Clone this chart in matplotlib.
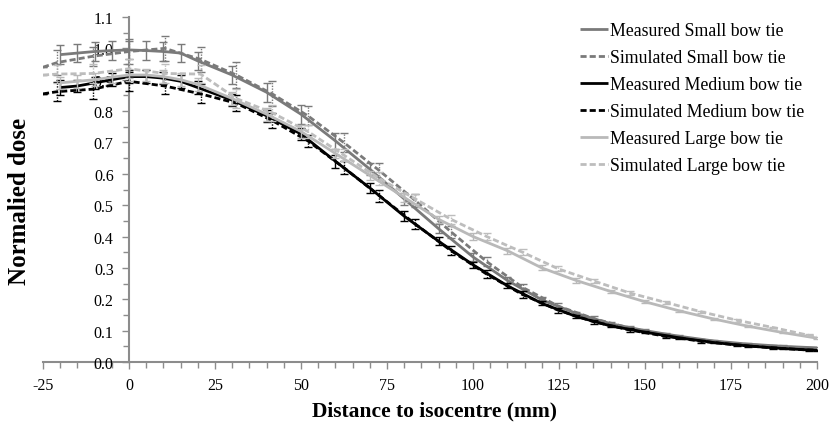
import numpy as np
import matplotlib
matplotlib.use("Agg")
import matplotlib.pyplot as plt
from matplotlib.ticker import MultipleLocator, FixedLocator

# ---------------- data ----------------
x_meas = [-20, -15, -10, -5, 0, 5, 10, 15, 20, 30, 40, 50, 60, 70, 80, 90,
          100, 110, 120, 130, 140, 150, 160, 170, 180, 190, 200]
x_sim = [-25.0, -20.8, -10.4, 0.0, 10.4, 20.8, 31.2, 41.6, 52.0, 62.4, 72.8,
         83.2, 93.6, 104.0, 114.4, 124.8, 135.2, 145.6, 156.0, 166.4, 176.8,
         187.2, 197.6, 208.0]

meas_small = [0.980, 0.985, 0.990, 0.993, 0.995, 0.993, 0.990, 0.985, 0.960,
              0.915, 0.860, 0.790, 0.705, 0.615, 0.520, 0.425, 0.335, 0.260,
              0.198, 0.155, 0.122, 0.100, 0.082, 0.067, 0.057, 0.050, 0.045]
meas_small_err = [0.03, 0.03, 0.03, 0.03, 0.03, 0.03, 0.03, 0.03, 0.03,
                  0.03, 0.03, 0.03, 0.025, 0.02, 0.02, 0.015, 0.012, 0.01,
                  0.008, 0.006, 0.005, 0.004, 0.004, 0.003, 0.003, 0.003, 0.003]

sim_small = [0.940, 0.955, 0.975, 0.990, 1.000, 0.965, 0.915, 0.855, 0.785,
             0.700, 0.610, 0.515, 0.415, 0.320, 0.238, 0.178, 0.138, 0.108,
             0.086, 0.070, 0.058, 0.050, 0.044, 0.040]
sim_small_err = [0.0, 0.04, 0.03, 0.04, 0.04, 0.04, 0.04, 0.04, 0.03, 0.03,
                 0.025, 0.02, 0.02, 0.015, 0.012, 0.01, 0.008, 0.006, 0.005,
                 0.004, 0.004, 0.003, 0.003, 0.003]

meas_medium = [0.875, 0.880, 0.890, 0.900, 0.910, 0.910, 0.905, 0.895, 0.875,
               0.835, 0.785, 0.727, 0.640, 0.555, 0.465, 0.385, 0.310, 0.243,
               0.187, 0.145, 0.115, 0.095, 0.077, 0.062, 0.051, 0.043, 0.037]
meas_medium_err = [0.025, 0.02, 0.02, 0.02, 0.02, 0.02, 0.02, 0.02, 0.02,
                   0.02, 0.02, 0.02, 0.02, 0.015, 0.015, 0.012, 0.01, 0.008,
                   0.006, 0.005, 0.004, 0.004, 0.003, 0.003, 0.003, 0.002, 0.002]

sim_medium = [0.855, 0.862, 0.870, 0.895, 0.880, 0.855, 0.825, 0.770, 0.705,
              0.620, 0.530, 0.440, 0.355, 0.280, 0.215, 0.165, 0.128, 0.102,
              0.082, 0.066, 0.054, 0.045, 0.038, 0.034]
sim_medium_err = [0.0, 0.03, 0.03, 0.03, 0.025, 0.03, 0.025, 0.025, 0.02, 0.02,
                  0.02, 0.015, 0.015, 0.012, 0.01, 0.008, 0.006, 0.005, 0.004,
                  0.004, 0.003, 0.003, 0.003, 0.002]

meas_large = [0.890, 0.895, 0.900, 0.908, 0.915, 0.915, 0.910, 0.900, 0.885,
              0.840, 0.790, 0.735, 0.665, 0.595, 0.525, 0.455, 0.400, 0.355,
              0.300, 0.260, 0.225, 0.192, 0.163, 0.137, 0.114, 0.094, 0.076]
meas_large_err = [0.02, 0.02, 0.02, 0.02, 0.02, 0.02, 0.02, 0.02, 0.02,
                  0.02, 0.02, 0.02, 0.015, 0.015, 0.015, 0.012, 0.012, 0.01,
                  0.008, 0.007, 0.006, 0.005, 0.004, 0.004, 0.003, 0.003, 0.003]

sim_large = [0.915, 0.918, 0.920, 0.935, 0.920, 0.918, 0.840, 0.795, 0.735,
             0.660, 0.585, 0.520, 0.455, 0.400, 0.350, 0.297, 0.258, 0.220,
             0.190, 0.160, 0.133, 0.110, 0.085, 0.072]
sim_large_err = [0.0, 0.03, 0.03, 0.03, 0.03, 0.03, 0.03, 0.025, 0.02, 0.02,
                 0.02, 0.015, 0.015, 0.012, 0.01, 0.008, 0.007, 0.006, 0.005,
                 0.004, 0.004, 0.003, 0.003, 0.003]

labels = ["Measured Small bow tie", "Simulated Small bow tie",
          "Measured Medium bow tie", "Simulated Medium bow tie",
          "Measured Large bow tie", "Simulated Large bow tie"]

x_ticks = [-25, 0, 25, 50, 75, 100, 125, 150, 175, 200]
y_ticks = [0.0, 0.1, 0.2, 0.3, 0.4, 0.5, 0.6, 0.7, 0.8, 0.9, 1.0, 1.1]

# ---------------- style ----------------
plt.rcParams['font.family'] = ['Liberation Serif', 'DejaVu Serif']
c_small = '#7a7a7a'
c_medium = '#000000'
c_large = '#b9b9b9'
c_large_sim = '#bdbdbd'
dash = (0, (2.2, 1.1))

fig = plt.figure(figsize=(8.31, 4.27), dpi=100)
ax = fig.add_axes([43 / 831, 1 - 363 / 427, (817 - 43) / 831, (363 - 18) / 427])

series = [
    (x_meas, meas_small, meas_small_err, c_small, '-', labels[0]),
    (x_sim, sim_small, sim_small_err, c_small, dash, labels[1]),
    (x_meas, meas_medium, meas_medium_err, c_medium, '-', labels[2]),
    (x_sim, sim_medium, sim_medium_err, c_medium, dash, labels[3]),
    (x_meas, meas_large, meas_large_err, c_large, '-', labels[4]),
    (x_sim, sim_large, sim_large_err, c_large_sim, dash, labels[5]),
]

handles = []
for i, (xs, ys, es, col, ls, lab) in enumerate(series):
    eb = ax.errorbar(xs, ys, yerr=es, fmt='none', ecolor=col, elinewidth=1.0,
                     capsize=3, capthick=1.0, zorder=2 + i)
    if ls != '-':
        for lc in eb[2]:
            lc.set_linestyle((0, (1, 1)))
    ln, = ax.plot(xs, ys, color=col, linestyle=ls, linewidth=2.0,
                  label=lab, zorder=3 + i, solid_capstyle='butt',
                  dash_capstyle='butt')
    handles.append(ln)

ax.set_xlim(-25, 200)
ax.set_ylim(0, 1.1)

for s in ['top', 'right']:
    ax.spines[s].set_visible(False)
ax.spines['left'].set_position(('data', 0))
ax.spines['bottom'].set_position(('data', 0))
for s in ['left', 'bottom']:
    ax.spines[s].set_color('#8c8c8c')
    ax.spines[s].set_linewidth(1.5)
    ax.spines[s].set_zorder(1)

ax.xaxis.set_major_locator(FixedLocator(x_ticks))
ax.xaxis.set_minor_locator(MultipleLocator(5))
ax.yaxis.set_major_locator(FixedLocator(y_ticks))
ax.yaxis.set_minor_locator(MultipleLocator(0.05))
ax.set_xticklabels([str(v) for v in x_ticks])
ax.set_yticklabels([f"{v:.1f}" for v in y_ticks])
ax.tick_params(axis='both', which='major', direction='out', length=5,
               width=1.0, color='#8c8c8c', labelsize=11.5, pad=6)
ax.tick_params(axis='both', which='minor', direction='out', length=4,
               width=1.0, color='#8c8c8c')

fig.text(20 / 831, 1 - 201 / 427, 'Normalied dose', rotation=90,
         ha='center', va='center', fontsize=18, fontweight='bold')
fig.text(435 / 831, 1 - 411 / 427, 'Distance to isocentre (mm)',
         ha='center', va='center', fontsize=15.5, fontweight='bold')

leg = fig.legend(handles=handles, labels=labels, loc='upper left',
                 bbox_to_anchor=(580 / 831, 1 - 23 / 427), frameon=False,
                 fontsize=12.8, handlelength=1.6, handletextpad=0.1,
                 labelspacing=0.56, borderpad=0, borderaxespad=0)

fig.savefig('out.png', dpi=100)
